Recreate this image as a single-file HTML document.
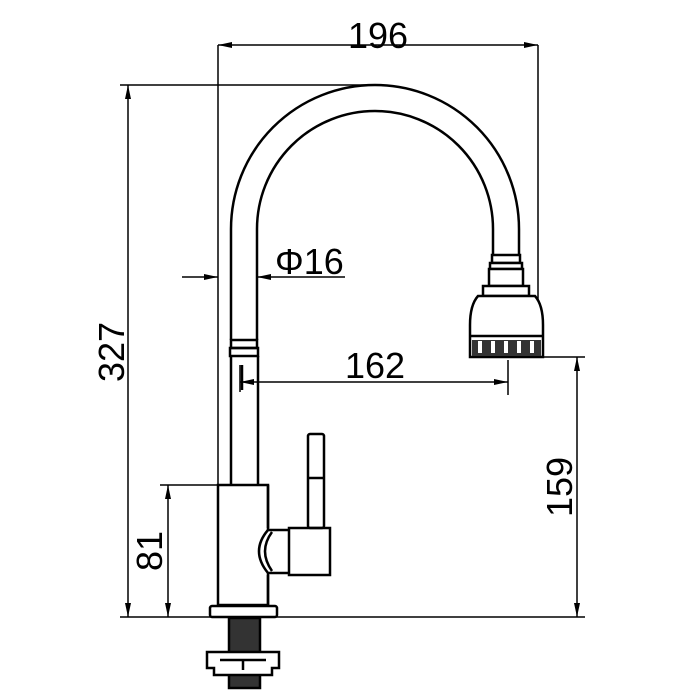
<!DOCTYPE html>
<html><head><style>body{margin:0;background:#fff}svg{display:block}text{font-family:"Liberation Sans",sans-serif;font-size:36px;fill:#000}</style></head>
<body>
<svg width="700" height="700" viewBox="0 0 700 700">
<defs>
<marker id="b" viewBox="0 0 14 6" refX="14" refY="3" markerWidth="14" markerHeight="6" orient="auto-start-reverse" markerUnits="userSpaceOnUse"><path d="M0,0L14,3L0,6z"/></marker></defs>
<g stroke="#000" fill="none" stroke-width="1.5">
<line x1="218" y1="45" x2="218" y2="485"/>
<line x1="538" y1="45" x2="538" y2="300"/>
<line x1="120" y1="85" x2="375" y2="85"/>
<line x1="120" y1="617" x2="585" y2="617"/>
<line x1="160" y1="485" x2="218" y2="485"/>
<line x1="543" y1="357" x2="585" y2="357"/>
<line x1="508" y1="360" x2="508" y2="395"/>
<line x1="240" y1="365" x2="240" y2="392"/>
<line x1="218" y1="45" x2="538" y2="45" marker-start="url(#b)" marker-end="url(#b)"/>
<line x1="128" y1="85" x2="128" y2="617" marker-start="url(#b)" marker-end="url(#b)"/>
<line x1="168" y1="485" x2="168" y2="617" marker-start="url(#b)" marker-end="url(#b)"/>
<line x1="577" y1="357" x2="577" y2="617" marker-start="url(#b)" marker-end="url(#b)"/>
<line x1="240" y1="382" x2="508" y2="382" marker-start="url(#b)" marker-end="url(#b)"/>
<line x1="182" y1="277" x2="218" y2="277" marker-end="url(#b)"/>
<line x1="345" y1="277" x2="257" y2="277" marker-end="url(#b)"/>
</g>
<g stroke="#000" fill="none" stroke-width="2.5">
<path d="M231,340 L231,229 A144,144 0 0 1 519,229 L519,255"/>
<path d="M257,340 L257,229 A118,118 0 0 1 493,229 L493,255"/>
<rect x="492" y="255" width="28" height="8" fill="#fff"/>
<rect x="490" y="263" width="32" height="6" fill="#fff"/>
<rect x="489" y="269" width="34" height="17" fill="#fff"/>
<rect x="483" y="286" width="46" height="10" fill="#fff"/>
<path d="M478,296 Q470,305 470,325 L470,357 L543,357 L543,325 Q543,305 535,296 Z" fill="#fff"/>
<line x1="470" y1="336" x2="543" y2="336"/>
<rect x="231" y="340" width="26" height="8"/>
<rect x="230" y="348" width="28" height="8"/>
<line x1="231" y1="356" x2="231" y2="485"/>
<line x1="258" y1="356" x2="258" y2="485"/>
<line x1="242" y1="365" x2="242" y2="390"/>
<rect x="218" y="485" width="50" height="120"/>
<rect x="258" y="528" width="32" height="47" fill="#fff" stroke="none"/>
<path d="M268,485 L268,530 M268,573 L268,605"/>
<path d="M268,530 L290,530 M268,573 L290,573 M268,530 Q250,551 268,573 M272,532 Q258,551 272,571"/>
<rect x="289" y="528" width="41" height="47"/>
<rect x="308" y="434" width="16" height="94" rx="2"/>
<line x1="309" y1="478" x2="323" y2="478"/>
<rect x="210" y="606" width="67" height="11" rx="2"/>
<rect x="229" y="618" width="31" height="70" fill="#333"/>
<path d="M207,652 L279,652 L279,668 L272,668 L272,675 L214,675 L214,668 L207,668 Z" fill="#fff"/>
<path d="M220,660 L266,660 M243,660 L243,670"/>
</g>
<g fill="#333"><rect x="472" y="340" width="69" height="16"/></g>
<g fill="#fff"><rect x="478" y="341" width="4" height="12"/><rect x="491" y="341" width="4" height="12"/><rect x="504" y="341" width="4" height="12"/><rect x="517" y="341" width="4" height="12"/><rect x="530" y="341" width="4" height="12"/></g>
<text x="378" y="48" text-anchor="middle">196</text>
<text x="375" y="378" text-anchor="middle">162</text>
<text x="275" y="274">Φ16</text>
<text transform="translate(124,352) rotate(-90)" text-anchor="middle">327</text>
<text transform="translate(162,551) rotate(-90)" text-anchor="middle">81</text>
<text transform="translate(572,487) rotate(-90)" text-anchor="middle">159</text>
</svg>
</body></html>
